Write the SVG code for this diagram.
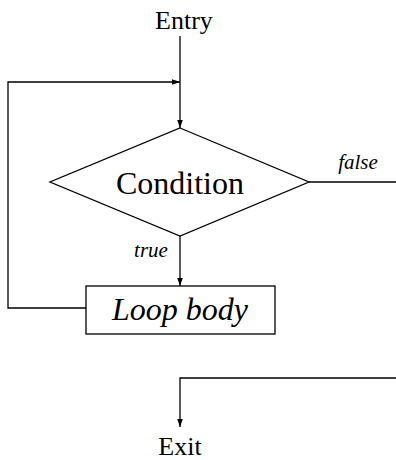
<svg xmlns="http://www.w3.org/2000/svg" width="396" height="460" viewBox="0 0 396 460">
  <style>
    .ln { fill: none; stroke: #000; stroke-width: 1.3; }
    .shape { fill: #fff; stroke: #000; stroke-width: 1.3; }
    text { fill: #000; text-anchor: middle; }
    .big { font-size: 32px; }
    .lbl { font-size: 26px; }
    .small { font-size: 21px; font-style: italic; }
  </style>
  <defs>
    <marker id="arrow" viewBox="0 0 10 10" refX="10" refY="5" markerWidth="8" markerHeight="8" orient="auto" markerUnits="userSpaceOnUse">
      <path d="M0,1.5 L10,5 L0,8.5 z" fill="#000"/>
    </marker>
  </defs>

  <g id="connectors">
    <!-- entry into condition -->
    <path class="ln" d="M180,36 V128" marker-end="url(#arrow)"/>
    <!-- loop back edge -->
    <path class="ln" d="M86,308 H8 V82 H180" marker-end="url(#arrow)"/>
    <!-- true branch -->
    <path class="ln" d="M180,236 V286" marker-end="url(#arrow)"/>
    <!-- false branch out -->
    <path class="ln" d="M309,182 H396"/>
    <!-- to exit -->
    <path class="ln" d="M396,378 H180 V427" marker-end="url(#arrow)"/>
    <text class="small" x="358" y="169" font-family="Liberation Serif">false</text>
    <text class="small" x="151" y="257" font-family="Liberation Serif">true</text>
  </g>

  <g id="entry">
    <text class="lbl" x="184" y="29" font-family="Liberation Serif">Entry</text>
  </g>

  <g id="condition">
    <polygon class="shape" points="180,128 309,182 180,236 50,182"/>
    <text class="big" x="180" y="194" font-family="Liberation Serif">Condition</text>
  </g>

  <g id="loop-body">
    <rect class="shape" x="86" y="286" width="189" height="48"/>
    <text class="big" x="180" y="320" font-style="italic" font-family="Liberation Serif">Loop body</text>
  </g>

  <g id="exit">
    <text class="lbl" x="180" y="455" font-family="Liberation Serif">Exit</text>
  </g>
</svg>
